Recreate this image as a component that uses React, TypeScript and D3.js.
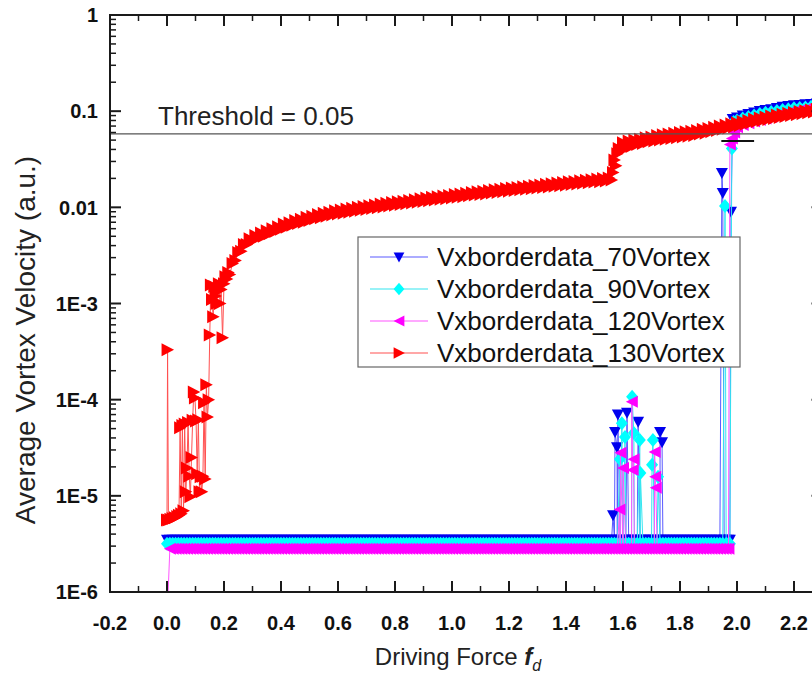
import React from "react";
import * as d3 from "d3";

// Driving-force sweep grid (in hundredths) for the low-velocity baseline runs
const FORCE_GRID_CENTI = [
  0,1,2,3,4,5,6,7,8,9,
  10,11,12,13,14,15,16,17,18,19,
  20,21,22,23,24,25,26,27,28,29,
  30,31,32,33,34,35,36,37,38,39,
  40,41,42,43,44,45,46,47,48,49,
  50,51,52,53,54,55,56,57,58,59,
  60,61,62,63,64,65,66,67,68,69,
  70,71,72,73,74,75,76,77,78,79,
  80,81,82,83,84,85,86,87,88,89,
  90,91,92,93,94,95,96,97,98,99,
  100,101,102,103,104,105,106,107,108,109,
  110,111,112,113,114,115,116,117,118,119,
  120,121,122,123,124,125,126,127,128,129,
  130,131,132,133,134,135,136,137,138,139,
  140,141,142,143,144,145,146,147,148,149,
  150,151,152,153,154,155,156,157,158,159,
  160,161,162,163,164,165,166,167,168,169,
  170,171,172,173,174,175,176,177,178,179,
  180,181,182,183,184,185,186,187,188,189,
  190,191,192,
];

const BASE_70 = [
  3.5e-6,3.5e-6,3.5e-6,3.5e-6,3.5e-6,3.5e-6,3.5e-6,3.5e-6,3.5e-6,3.5e-6,
  3.5e-6,3.5e-6,3.5e-6,3.5e-6,3.5e-6,3.5e-6,3.5e-6,3.5e-6,3.5e-6,3.5e-6,
  3.5e-6,3.5e-6,3.5e-6,3.5e-6,3.5e-6,3.5e-6,3.5e-6,3.5e-6,3.5e-6,3.5e-6,
  3.5e-6,3.5e-6,3.5e-6,3.5e-6,3.5e-6,3.5e-6,3.5e-6,3.5e-6,3.5e-6,3.5e-6,
  3.5e-6,3.5e-6,3.5e-6,3.5e-6,3.5e-6,3.5e-6,3.5e-6,3.5e-6,3.5e-6,3.5e-6,
  3.5e-6,3.5e-6,3.5e-6,3.5e-6,3.5e-6,3.5e-6,3.5e-6,3.5e-6,3.5e-6,3.5e-6,
  3.5e-6,3.5e-6,3.5e-6,3.5e-6,3.5e-6,3.5e-6,3.5e-6,3.5e-6,3.5e-6,3.5e-6,
  3.5e-6,3.5e-6,3.5e-6,3.5e-6,3.5e-6,3.5e-6,3.5e-6,3.5e-6,3.5e-6,3.5e-6,
  3.5e-6,3.5e-6,3.5e-6,3.5e-6,3.5e-6,3.5e-6,3.5e-6,3.5e-6,3.5e-6,3.5e-6,
  3.5e-6,3.5e-6,3.5e-6,3.5e-6,3.5e-6,3.5e-6,3.5e-6,3.5e-6,3.5e-6,3.5e-6,
  3.5e-6,3.5e-6,3.5e-6,3.5e-6,3.5e-6,3.5e-6,3.5e-6,3.5e-6,3.5e-6,3.5e-6,
  3.5e-6,3.5e-6,3.5e-6,3.5e-6,3.5e-6,3.5e-6,3.5e-6,3.5e-6,3.5e-6,3.5e-6,
  3.5e-6,3.5e-6,3.5e-6,3.5e-6,3.5e-6,3.5e-6,3.5e-6,3.5e-6,3.5e-6,3.5e-6,
  3.5e-6,3.5e-6,3.5e-6,3.5e-6,3.5e-6,3.5e-6,3.5e-6,3.5e-6,3.5e-6,3.5e-6,
  3.5e-6,3.5e-6,3.5e-6,3.5e-6,3.5e-6,3.5e-6,3.5e-6,3.5e-6,3.5e-6,3.5e-6,
  3.5e-6,3.5e-6,3.5e-6,3.5e-6,3.5e-6,3.5e-6,3.5e-6,3.5e-6,3.5e-6,3.5e-6,
  3.5e-6,3.5e-6,3.5e-6,3.5e-6,3.5e-6,3.5e-6,3.5e-6,3.5e-6,3.5e-6,3.5e-6,
  3.5e-6,3.5e-6,3.5e-6,3.5e-6,3.5e-6,3.5e-6,3.5e-6,3.5e-6,3.5e-6,3.5e-6,
  3.5e-6,3.5e-6,3.5e-6,3.5e-6,3.5e-6,3.5e-6,3.5e-6,3.5e-6,3.5e-6,3.5e-6,
  3.5e-6,3.5e-6,3.5e-6,
];

const BASE_90 = [
  3.17e-6,3.17e-6,3.17e-6,3.17e-6,3.17e-6,3.17e-6,3.17e-6,3.17e-6,3.17e-6,3.17e-6,
  3.17e-6,3.17e-6,3.17e-6,3.17e-6,3.17e-6,3.17e-6,3.17e-6,3.17e-6,3.17e-6,3.17e-6,
  3.17e-6,3.17e-6,3.17e-6,3.17e-6,3.17e-6,3.17e-6,3.17e-6,3.17e-6,3.17e-6,3.17e-6,
  3.17e-6,3.17e-6,3.17e-6,3.17e-6,3.17e-6,3.17e-6,3.17e-6,3.17e-6,3.17e-6,3.17e-6,
  3.17e-6,3.17e-6,3.17e-6,3.17e-6,3.17e-6,3.17e-6,3.17e-6,3.17e-6,3.17e-6,3.17e-6,
  3.17e-6,3.17e-6,3.17e-6,3.17e-6,3.17e-6,3.17e-6,3.17e-6,3.17e-6,3.17e-6,3.17e-6,
  3.17e-6,3.17e-6,3.17e-6,3.17e-6,3.17e-6,3.17e-6,3.17e-6,3.17e-6,3.17e-6,3.17e-6,
  3.17e-6,3.17e-6,3.17e-6,3.17e-6,3.17e-6,3.17e-6,3.17e-6,3.17e-6,3.17e-6,3.17e-6,
  3.17e-6,3.17e-6,3.17e-6,3.17e-6,3.17e-6,3.17e-6,3.17e-6,3.17e-6,3.17e-6,3.17e-6,
  3.17e-6,3.17e-6,3.17e-6,3.17e-6,3.17e-6,3.17e-6,3.17e-6,3.17e-6,3.17e-6,3.17e-6,
  3.17e-6,3.17e-6,3.17e-6,3.17e-6,3.17e-6,3.17e-6,3.17e-6,3.17e-6,3.17e-6,3.17e-6,
  3.17e-6,3.17e-6,3.17e-6,3.17e-6,3.17e-6,3.17e-6,3.17e-6,3.17e-6,3.17e-6,3.17e-6,
  3.17e-6,3.17e-6,3.17e-6,3.17e-6,3.17e-6,3.17e-6,3.17e-6,3.17e-6,3.17e-6,3.17e-6,
  3.17e-6,3.17e-6,3.17e-6,3.17e-6,3.17e-6,3.17e-6,3.17e-6,3.17e-6,3.17e-6,3.17e-6,
  3.17e-6,3.17e-6,3.17e-6,3.17e-6,3.17e-6,3.17e-6,3.17e-6,3.17e-6,3.17e-6,3.17e-6,
  3.17e-6,3.17e-6,3.17e-6,3.17e-6,3.17e-6,3.17e-6,3.17e-6,3.17e-6,3.17e-6,3.17e-6,
  3.17e-6,3.17e-6,3.17e-6,3.17e-6,3.17e-6,3.17e-6,3.17e-6,3.17e-6,3.17e-6,3.17e-6,
  3.17e-6,3.17e-6,3.17e-6,3.17e-6,3.17e-6,3.17e-6,3.17e-6,3.17e-6,3.17e-6,3.17e-6,
  3.17e-6,3.17e-6,3.17e-6,3.17e-6,3.17e-6,3.17e-6,3.17e-6,3.17e-6,3.17e-6,3.17e-6,
  3.17e-6,3.17e-6,3.17e-6,
];

const BASE_120 = [
  5.0e-7,2.81e-6,2.81e-6,2.81e-6,2.81e-6,2.81e-6,2.81e-6,2.81e-6,2.81e-6,2.81e-6,
  2.81e-6,2.81e-6,2.81e-6,2.81e-6,2.81e-6,2.81e-6,2.81e-6,2.81e-6,2.81e-6,2.81e-6,
  2.81e-6,2.81e-6,2.81e-6,2.81e-6,2.81e-6,2.81e-6,2.81e-6,2.81e-6,2.81e-6,2.81e-6,
  2.81e-6,2.81e-6,2.81e-6,2.81e-6,2.81e-6,2.81e-6,2.81e-6,2.81e-6,2.81e-6,2.81e-6,
  2.81e-6,2.81e-6,2.81e-6,2.81e-6,2.81e-6,2.81e-6,2.81e-6,2.81e-6,2.81e-6,2.81e-6,
  2.81e-6,2.81e-6,2.81e-6,2.81e-6,2.81e-6,2.81e-6,2.81e-6,2.81e-6,2.81e-6,2.81e-6,
  2.81e-6,2.81e-6,2.81e-6,2.81e-6,2.81e-6,2.81e-6,2.81e-6,2.81e-6,2.81e-6,2.81e-6,
  2.81e-6,2.81e-6,2.81e-6,2.81e-6,2.81e-6,2.81e-6,2.81e-6,2.81e-6,2.81e-6,2.81e-6,
  2.81e-6,2.81e-6,2.81e-6,2.81e-6,2.81e-6,2.81e-6,2.81e-6,2.81e-6,2.81e-6,2.81e-6,
  2.81e-6,2.81e-6,2.81e-6,2.81e-6,2.81e-6,2.81e-6,2.81e-6,2.81e-6,2.81e-6,2.81e-6,
  2.81e-6,2.81e-6,2.81e-6,2.81e-6,2.81e-6,2.81e-6,2.81e-6,2.81e-6,2.81e-6,2.81e-6,
  2.81e-6,2.81e-6,2.81e-6,2.81e-6,2.81e-6,2.81e-6,2.81e-6,2.81e-6,2.81e-6,2.81e-6,
  2.81e-6,2.81e-6,2.81e-6,2.81e-6,2.81e-6,2.81e-6,2.81e-6,2.81e-6,2.81e-6,2.81e-6,
  2.81e-6,2.81e-6,2.81e-6,2.81e-6,2.81e-6,2.81e-6,2.81e-6,2.81e-6,2.81e-6,2.81e-6,
  2.81e-6,2.81e-6,2.81e-6,2.81e-6,2.81e-6,2.81e-6,2.81e-6,2.81e-6,2.81e-6,2.81e-6,
  2.81e-6,2.81e-6,2.81e-6,2.81e-6,2.81e-6,2.81e-6,2.81e-6,2.81e-6,2.81e-6,2.81e-6,
  2.81e-6,2.81e-6,2.81e-6,2.81e-6,2.81e-6,2.81e-6,2.81e-6,2.81e-6,2.81e-6,2.81e-6,
  2.81e-6,2.81e-6,2.81e-6,2.81e-6,2.81e-6,2.81e-6,2.81e-6,2.81e-6,2.81e-6,2.81e-6,
  2.81e-6,2.81e-6,2.81e-6,2.81e-6,2.81e-6,2.81e-6,2.81e-6,2.81e-6,2.81e-6,2.81e-6,
  2.81e-6,2.81e-6,2.81e-6,
];

// Spikes out of the pinned state (driving force, velocity)
const SPIKES_70: [number, number][] = [
  [1.565, 6.3e-6], [1.572, 4.6e-5], [1.579, 3.2e-5], [1.582, 7.0e-5],
  [1.614, 7.3e-5], [1.653, 5.9e-5], [1.730, 4.6e-5], [1.737, 3.6e-5],
];
const SPIKES_90: [number, number][] = [
  [1.589, 2.4e-5], [1.596, 5.7e-5], [1.607, 4.1e-5], [1.632, 1.07e-4],
  [1.638, 4.5e-5], [1.659, 3.8e-5], [1.661, 1.73e-5], [1.702, 2.1e-5],
  [1.705, 3.8e-5], [1.723, 1.58e-5],
];
const SPIKES_120: [number, number][] = [
  [1.588, 7.2e-6], [1.591, 2.8e-5], [1.600, 1.95e-5], [1.631, 9.5e-5],
  [1.634, 1.86e-5], [1.637, 2.4e-5], [1.711, 2.86e-5], [1.713, 1.58e-5],
  [1.715, 1.21e-5],
];

// Depinning jump and moving phase
const TAIL_70: [number, number][] = [
  [1.93, 3.5e-6], [1.94, 3.5e-6], [1.947, 0.0228], [1.950, 0.0141], [1.955, 3.5e-6],
  [1.96, 3.5e-6], [1.97, 3.5e-6], [1.975, 3.5e-6], [1.979, 0.009], [1.985, 0.083],
  [2.00, 0.086], [2.02, 0.090], [2.04, 0.0935], [2.06, 0.097], [2.08, 0.1005],
  [2.10, 0.103], [2.12, 0.105], [2.14, 0.108], [2.16, 0.111], [2.18, 0.113],
  [2.20, 0.115], [2.22, 0.116], [2.24, 0.118], [2.26, 0.119], [2.28, 0.120], [2.30, 0.122],
];
const TAIL_90: [number, number][] = [
  [1.93, 3.17e-6], [1.94, 3.17e-6], [1.95, 3.17e-6], [1.958, 0.0103], [1.962, 3.17e-6],
  [1.97, 3.17e-6], [1.975, 3.17e-6], [1.982, 0.041], [1.988, 0.077],
  [2.00, 0.080], [2.02, 0.084], [2.04, 0.087], [2.06, 0.090], [2.08, 0.0935],
  [2.10, 0.096], [2.12, 0.098], [2.14, 0.1005], [2.16, 0.103], [2.18, 0.105],
  [2.20, 0.107], [2.22, 0.108], [2.24, 0.109], [2.26, 0.111], [2.28, 0.112], [2.30, 0.113],
];
const TAIL_120: [number, number][] = [
  [1.93, 2.81e-6], [1.94, 2.81e-6], [1.95, 2.81e-6], [1.96, 2.81e-6], [1.97, 2.81e-6],
  [1.975, 0.045], [1.982, 0.052], [1.99, 0.060],
  [2.00, 0.068], [2.02, 0.072], [2.04, 0.075], [2.06, 0.078], [2.08, 0.081],
  [2.10, 0.084], [2.12, 0.087], [2.14, 0.090], [2.16, 0.093], [2.18, 0.096],
  [2.20, 0.099], [2.22, 0.102], [2.24, 0.105], [2.26, 0.108], [2.28, 0.111], [2.30, 0.114],
];

const SERIES_130: [number, number][] = [
  [0.000, 5.6e-6], [0.002, 3.3e-4], [0.005, 5.6e-6], [0.012, 5.7e-6], [0.020, 5.8e-6],
  [0.028, 5.9e-6], [0.036, 6.1e-6], [0.042, 6.3e-6], [0.046, 5.1e-5], [0.050, 6.5e-6],
  [0.054, 5.4e-5], [0.058, 7.0e-6], [0.062, 5.6e-5], [0.066, 1.1e-5], [0.070, 1.95e-5],
  [0.074, 5.8e-5], [0.078, 1.6e-5], [0.082, 9.8e-6], [0.086, 2.5e-5], [0.090, 6.1e-5],
  [0.094, 1.2e-4], [0.098, 1.04e-4], [0.102, 6.0e-5], [0.106, 1.7e-5], [0.110, 6.2e-5],
  [0.114, 1.1e-5], [0.118, 1.58e-5], [0.122, 1.1e-5], [0.126, 1.6e-5], [0.130, 9.3e-5],
  [0.134, 1.5e-5], [0.138, 1.43e-4], [0.142, 6.6e-5], [0.146, 1.0e-4], [0.150, 4.7e-4],
  [0.154, 1.56e-3], [0.158, 1.1e-3], [0.162, 7.3e-4], [0.166, 1.5e-3], [0.170, 1.2e-3],
  [0.174, 1.0e-3], [0.178, 1.4e-3], [0.182, 1.6e-3], [0.186, 1.0e-3], [0.190, 1.4e-3],
  [0.195, 4.4e-4], [0.200, 1.6e-3], [0.205, 1.9e-3], [0.210, 1.8e-3], [0.215, 2.1e-3],
  [0.22, 2.0e-3], [0.23, 2.6e-3], [0.24, 2.8e-3], [0.25, 3.4e-3], [0.26, 3.5e-3],
  [0.27, 4.1e-3], [0.28, 4.1e-3], [0.29, 4.7e-3], [0.30, 4.5e-3], [0.31, 5.1e-3],
  [0.32, 4.8e-3], [0.33, 5.4e-3], [0.34, 5.0e-3], [0.35, 5.7e-3], [0.36, 5.3e-3],
  [0.37, 6.0e-3], [0.38, 5.6e-3], [0.39, 6.3e-3], [0.40, 5.9e-3], [0.41, 6.7e-3],
  [0.42, 6.2e-3], [0.43, 6.9e-3], [0.44, 6.5e-3], [0.45, 7.3e-3], [0.46, 6.8e-3],
  [0.47, 7.5e-3], [0.48, 7.0e-3], [0.49, 7.9e-3], [0.50, 7.3e-3], [0.51, 8.1e-3],
  [0.52, 7.6e-3], [0.53, 8.4e-3], [0.54, 7.8e-3], [0.55, 8.7e-3], [0.56, 8.1e-3],
  [0.57, 8.9e-3], [0.58, 8.3e-3], [0.59, 9.2e-3], [0.60, 8.5e-3], [0.61, 9.4e-3],
  [0.62, 8.7e-3], [0.63, 9.6e-3], [0.64, 8.9e-3], [0.65, 9.8e-3], [0.66, 9.1e-3],
  [0.67, 1.0e-2], [0.68, 9.3e-3], [0.69, 1.02e-2], [0.70, 9.5e-3], [0.71, 1.04e-2],
  [0.72, 9.7e-3], [0.73, 1.06e-2], [0.74, 9.9e-3], [0.75, 1.08e-2], [0.76, 1.01e-2],
  [0.77, 1.10e-2], [0.78, 1.03e-2], [0.79, 1.12e-2], [0.80, 1.05e-2], [0.81, 1.14e-2],
  [0.82, 1.07e-2], [0.83, 1.16e-2], [0.84, 1.09e-2], [0.85, 1.18e-2], [0.86, 1.11e-2],
  [0.87, 1.20e-2], [0.88, 1.13e-2], [0.89, 1.23e-2], [0.90, 1.15e-2], [0.91, 1.25e-2],
  [0.92, 1.17e-2], [0.93, 1.27e-2], [0.94, 1.19e-2], [0.95, 1.29e-2], [0.96, 1.21e-2],
  [0.97, 1.31e-2], [0.98, 1.23e-2], [0.99, 1.33e-2], [1.00, 1.25e-2], [1.01, 1.36e-2],
  [1.02, 1.27e-2], [1.03, 1.38e-2], [1.04, 1.29e-2], [1.05, 1.40e-2], [1.06, 1.32e-2],
  [1.07, 1.43e-2], [1.08, 1.34e-2], [1.09, 1.45e-2], [1.10, 1.36e-2], [1.11, 1.47e-2],
  [1.12, 1.38e-2], [1.13, 1.50e-2], [1.14, 1.41e-2], [1.15, 1.52e-2], [1.16, 1.43e-2],
  [1.17, 1.54e-2], [1.18, 1.45e-2], [1.19, 1.57e-2], [1.20, 1.47e-2], [1.21, 1.59e-2],
  [1.22, 1.50e-2], [1.23, 1.61e-2], [1.24, 1.52e-2], [1.25, 1.64e-2], [1.26, 1.54e-2],
  [1.27, 1.66e-2], [1.28, 1.56e-2], [1.29, 1.69e-2], [1.30, 1.59e-2], [1.31, 1.71e-2],
  [1.32, 1.61e-2], [1.33, 1.74e-2], [1.34, 1.63e-2], [1.35, 1.76e-2], [1.36, 1.66e-2],
  [1.37, 1.79e-2], [1.38, 1.68e-2], [1.39, 1.81e-2], [1.40, 1.70e-2], [1.41, 1.84e-2],
  [1.42, 1.73e-2], [1.43, 1.86e-2], [1.44, 1.75e-2], [1.45, 1.89e-2], [1.46, 1.78e-2],
  [1.47, 1.91e-2], [1.48, 1.80e-2], [1.49, 1.94e-2], [1.50, 1.83e-2], [1.51, 1.97e-2],
  [1.52, 1.85e-2], [1.53, 2.00e-2], [1.54, 1.88e-2], [1.55, 2.02e-2], [1.56, 1.92e-2],
  [1.565, 2.3e-2], [1.57, 3.1e-2], [1.575, 2.7e-2], [1.58, 3.6e-2], [1.585, 4.1e-2],
  [1.59, 3.8e-2], [1.60, 4.7e-2], [1.61, 4.2e-2], [1.62, 4.9e-2], [1.63, 4.3e-2],
  [1.64, 5.0e-2], [1.65, 4.5e-2], [1.66, 5.1e-2], [1.67, 4.6e-2], [1.68, 5.3e-2],
  [1.69, 4.8e-2], [1.70, 5.4e-2], [1.71, 4.9e-2], [1.72, 5.6e-2], [1.73, 5.0e-2],
  [1.74, 5.7e-2], [1.75, 5.1e-2], [1.76, 5.8e-2], [1.77, 5.2e-2], [1.78, 5.9e-2],
  [1.79, 5.3e-2], [1.80, 6.0e-2], [1.81, 5.4e-2], [1.82, 6.1e-2], [1.83, 5.5e-2],
  [1.84, 6.2e-2], [1.85, 5.6e-2], [1.86, 6.3e-2], [1.87, 5.8e-2], [1.88, 6.5e-2],
  [1.89, 5.9e-2], [1.90, 6.6e-2], [1.91, 6.1e-2], [1.92, 6.8e-2], [1.93, 6.3e-2],
  [1.94, 7.0e-2], [1.95, 6.5e-2], [1.96, 7.2e-2], [1.97, 6.7e-2], [1.98, 7.4e-2],
  [1.99, 6.9e-2], [2.00, 7.6e-2], [2.01, 7.1e-2], [2.02, 7.8e-2], [2.03, 7.3e-2],
  [2.04, 8.0e-2], [2.05, 7.6e-2], [2.06, 8.3e-2], [2.07, 7.8e-2], [2.08, 8.5e-2],
  [2.09, 8.0e-2], [2.10, 8.7e-2], [2.11, 8.2e-2], [2.12, 8.9e-2], [2.13, 8.4e-2],
  [2.14, 9.1e-2], [2.15, 8.6e-2], [2.16, 9.3e-2], [2.17, 8.8e-2], [2.18, 9.5e-2],
  [2.19, 9.0e-2], [2.20, 9.7e-2], [2.21, 9.2e-2], [2.22, 9.9e-2], [2.23, 9.4e-2],
  [2.24, 1.01e-1], [2.25, 9.6e-2], [2.26, 1.03e-1], [2.27, 9.8e-2], [2.28, 1.05e-1],
  [2.29, 1.00e-1], [2.30, 1.07e-1],
];

const THRESHOLD_LINE_VALUE = 0.058;
const SHORT_MARK: [number, number][] = [[1.945, 0.049], [2.06, 0.049]];

const X_TICKS = [-0.2, 0, 0.2, 0.4, 0.6, 0.8, 1.0, 1.2, 1.4, 1.6, 1.8, 2.0, 2.2];
const X_TICK_LABELS = ["-0.2", "0.0", "0.2", "0.4", "0.6", "0.8", "1.0", "1.2", "1.4", "1.6", "1.8", "2.0", "2.2"];
const X_MINOR = [-0.1, 0.1, 0.3, 0.5, 0.7, 0.9, 1.1, 1.3, 1.5, 1.7, 1.9, 2.1, 2.3];
const Y_TICKS = [1e-6, 1e-5, 1e-4, 1e-3, 1e-2, 1e-1, 1];
const Y_TICK_LABELS = ["1E-6", "1E-5", "1E-4", "1E-3", "0.01", "0.1", "1"];

const LEGEND_LABELS = ["Vxborderdata_70Vortex", "Vxborderdata_90Vortex", "Vxborderdata_120Vortex", "Vxborderdata_130Vortex"];

type Shape = "down" | "diamond" | "left" | "right";

function markerPath(shape: Shape, s = 1): string {
  switch (shape) {
    case "down":
      return `M${-6 * s},${-5 * s}L${6 * s},${-5 * s}L0,${6 * s}Z`;
    case "diamond":
      return `M0,${-7 * s}L${6 * s},0L0,${7 * s}L${-6 * s},0Z`;
    case "left":
      return `M${-6 * s},0L${6 * s},${-6 * s}L${6 * s},${6 * s}Z`;
    default:
      return `M${6.5 * s},0L${-6 * s},${-6.5 * s}L${-6 * s},${6.5 * s}Z`;
  }
}

function merge(base: number[], extra: [number, number][]): [number, number][] {
  const pts: [number, number][] = FORCE_GRID_CENTI.map((c, i) => [c / 100, base[i]] as [number, number]);
  return pts.concat(extra).sort((a, b) => a[0] - b[0]);
}

const FONT = "'Liberation Sans', Arial, Helvetica, sans-serif";

export default function App() {
  const x = d3.scaleLinear().domain([-0.2, 2.3]).range([110, 822.5]);
  const y = d3.scaleLog().domain([1e-6, 1]).range([592, 15]);
  const left = 110, top = 15, bottom = 592, right = 822.5;

  const series = [
    { name: LEGEND_LABELS[0], data: merge(BASE_70, SPIKES_70.concat(TAIL_70)), fill: "#0000ee", stroke: "#5a5aff", shape: "down" as Shape },
    { name: LEGEND_LABELS[1], data: merge(BASE_90, SPIKES_90.concat(TAIL_90)), fill: "#00ffff", stroke: "#33e6f0", shape: "diamond" as Shape },
    { name: LEGEND_LABELS[2], data: merge(BASE_120, SPIKES_120.concat(TAIL_120)), fill: "#ff00ff", stroke: "#ff55ff", shape: "left" as Shape },
    { name: LEGEND_LABELS[3], data: SERIES_130, fill: "#ff0000", stroke: "#ff5050", shape: "right" as Shape },
  ];

  const line = d3.line<[number, number]>().x((d) => x(d[0])).y((d) => y(d[1]));

  const decades = [1e-6, 1e-5, 1e-4, 1e-3, 1e-2, 1e-1];
  const yMinor: number[] = [];
  decades.forEach((d) => [2, 3, 4, 5, 6, 7, 8, 9].forEach((k) => yMinor.push(d * k)));

  const axisColor = "#1a1a1a";
  const major = 11, minor = 6;

  return (
    <svg width={812} height={677} style={{ position: "absolute", left: 0, top: 0, background: "#fff" }} fontFamily={FONT}>
      <defs>
        <clipPath id="plotClip">
          <rect x={left} y={top} width={right - left} height={bottom - top} />
        </clipPath>
      </defs>
      <rect x={0} y={0} width={812} height={677} fill="#fff" />

      <g clipPath="url(#plotClip)">
        {series.map((s) => (
          <g key={s.name}>
            <path d={line(s.data) || ""} fill="none" stroke={s.stroke} strokeWidth={1} />
            {s.data.map((d, i) => (
              <path key={i} d={markerPath(s.shape)} transform={`translate(${x(d[0])},${y(d[1])})`} fill={s.fill} />
            ))}
          </g>
        ))}
        <line x1={x(-0.2)} x2={right} y1={y(THRESHOLD_LINE_VALUE)} y2={y(THRESHOLD_LINE_VALUE)} stroke="#555" strokeWidth={1.2} />
        <path d={line(SHORT_MARK) || ""} stroke="#111" strokeWidth={2} />
      </g>

      {/* frame */}
      <rect x={left} y={top} width={right - left} height={bottom - top} fill="none" stroke={axisColor} strokeWidth={2} />

      {/* y ticks */}
      {Y_TICKS.map((v) => (
        <g key={"ym" + v}>
          <line x1={left} x2={left + major} y1={y(v)} y2={y(v)} stroke={axisColor} strokeWidth={2} />
          <line x1={right} x2={right - major} y1={y(v)} y2={y(v)} stroke={axisColor} strokeWidth={2} />
        </g>
      ))}
      {yMinor.map((v) => (
        <g key={"yn" + v}>
          <line x1={left} x2={left + minor} y1={y(v)} y2={y(v)} stroke={axisColor} strokeWidth={1.5} />
          <line x1={right} x2={right - minor} y1={y(v)} y2={y(v)} stroke={axisColor} strokeWidth={1.5} />
        </g>
      ))}
      {Y_TICKS.map((v, i) => (
        <text key={"yl" + v} x={98} y={y(v)} dy="0.36em" textAnchor="end" fontWeight="bold" fontSize={20} fill="#111">
          {Y_TICK_LABELS[i]}
        </text>
      ))}

      {/* x ticks */}
      {X_TICKS.map((v) => (
        <g key={"xm" + v}>
          <line x1={x(v)} x2={x(v)} y1={bottom} y2={bottom - major} stroke={axisColor} strokeWidth={2} />
          <line x1={x(v)} x2={x(v)} y1={top} y2={top + major} stroke={axisColor} strokeWidth={2} />
        </g>
      ))}
      {X_MINOR.map((v) => (
        <g key={"xn" + v}>
          <line x1={x(v)} x2={x(v)} y1={bottom} y2={bottom - minor} stroke={axisColor} strokeWidth={1.5} />
          <line x1={x(v)} x2={x(v)} y1={top} y2={top + minor} stroke={axisColor} strokeWidth={1.5} />
        </g>
      ))}
      {X_TICKS.map((v, i) => (
        <text key={"xl" + v} x={x(v)} y={630} textAnchor="middle" fontWeight="bold" fontSize={20} fill="#111">
          {X_TICK_LABELS[i]}
        </text>
      ))}

      {/* threshold label */}
      <text x={158} y={125} fontSize={26} fill="#222">Threshold = 0.05</text>

      {/* axis titles */}
      <text x={458} y={665} textAnchor="middle" fontSize={24} fill="#222">
        Driving Force{" "}
        <tspan fontWeight="bold" fontStyle="italic">f</tspan>
        <tspan fontStyle="italic" fontSize={16} dy={6}>d</tspan>
      </text>
      <text transform="translate(35,340) rotate(-90)" textAnchor="middle" fontSize={28} fill="#222">
        Average Vortex Velocity (a.u.)
      </text>

      {/* legend */}
      <g>
        <rect x={358} y={237} width={382} height={130} fill="#fff" stroke="#666" strokeWidth={1.2} />
        {series.map((s, i) => {
          const cy = 257 + i * 32;
          return (
            <g key={"lg" + i}>
              <line x1={370} x2={428} y1={cy} y2={cy} stroke={s.stroke} strokeWidth={1.2} />
              <path d={markerPath(s.shape, 0.9)} transform={`translate(399,${cy})`} fill={s.fill} />
              <text x={437} y={cy} dy="0.36em" fontSize={26} fill="#111">{s.name}</text>
            </g>
          );
        })}
      </g>
    </svg>
  );
}
